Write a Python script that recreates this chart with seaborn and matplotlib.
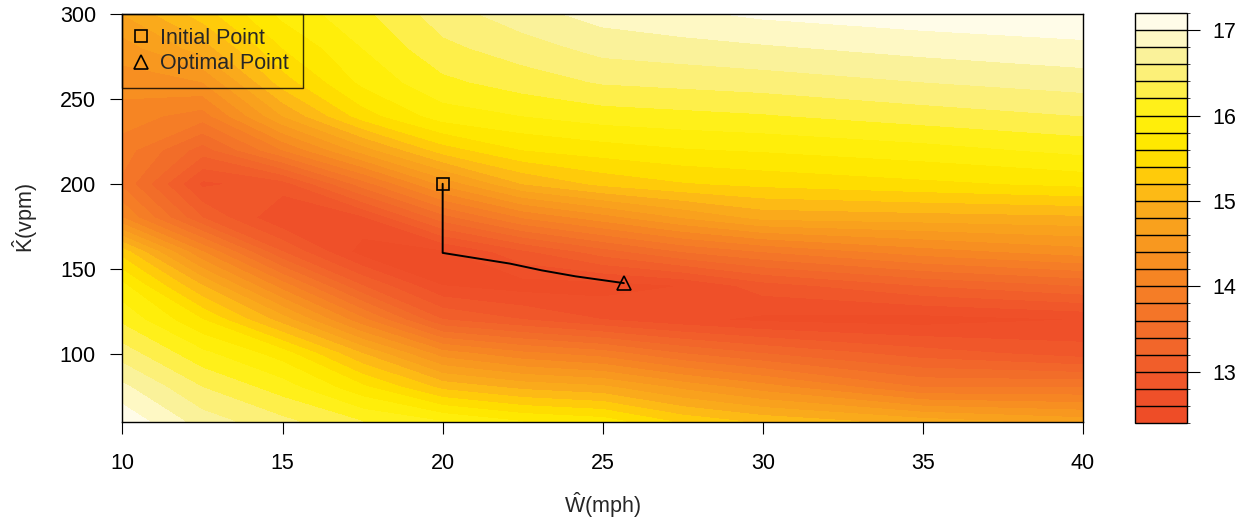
import numpy as np
import matplotlib
matplotlib.use("Agg")
import matplotlib.pyplot as plt
from matplotlib.colors import ListedColormap, BoundaryNorm
import seaborn as sns

sns.set_style("white")
plt.rcParams["font.family"] = ["Liberation Sans", "DejaVu Sans"]
plt.rcParams["mathtext.fontset"] = "custom"
plt.rcParams["mathtext.rm"] = "Liberation Sans"
plt.rcParams["mathtext.it"] = "Liberation Sans:italic"

# grid of speed W (mph) and density K (vpm)
w_vals = [10, 12.5, 15, 17.5, 20, 22.5, 25, 27.5, 30, 35, 40]
k_vals = [60, 80, 100, 120, 140, 160, 180, 200, 220, 240, 260, 280, 300]

# surface value along each W column (K = 60 ... 300)
z_w10 = [17.15, 16.85, 16.5, 16.15, 15.85, 15.3, 14.2, 13.75, 13.9, 14.1, 14.3, 14.5, 14.8]
z_w12 = [16.7, 16.4, 16.05, 15.6, 15.0, 14.2, 13.2, 12.75, 13.3, 13.9, 14.4, 14.9, 15.3]
z_w15 = [16.45, 16.1, 15.7, 14.9, 14.1, 13.2, 12.6, 12.9, 14.0, 14.8, 15.3, 15.6, 15.85]
z_w17 = [16.2, 15.65, 15.0, 14.05, 13.2, 12.5, 12.75, 13.7, 14.7, 15.5, 15.85, 16.0, 16.15]
z_w20 = [16.0, 15.15, 14.3, 13.2, 12.6, 12.55, 13.5, 14.45, 15.3, 15.9, 16.15, 16.35, 16.5]
z_w22 = [15.8, 14.95, 14.05, 13.0, 12.5, 12.95, 14.0, 15.0, 15.6, 16.0, 16.3, 16.5, 16.72]
z_w25 = [15.7, 14.85, 13.9, 12.8, 12.5, 13.3, 14.3, 15.25, 15.7, 16.1, 16.42, 16.67, 16.88]
z_w27 = [15.35, 14.55, 13.6, 12.65, 12.6, 13.6, 14.6, 15.38, 15.78, 16.14, 16.46, 16.72, 16.96]
z_w30 = [15.15, 14.3, 13.4, 12.55, 12.9, 13.8, 14.85, 15.45, 15.82, 16.18, 16.5, 16.77, 17.04]
z_w35 = [14.9, 13.8, 13.1, 12.5, 13.2, 14.1, 14.9, 15.55, 15.92, 16.3, 16.6, 16.87, 17.12]
z_w40 = [14.7, 13.8, 12.9, 12.6, 13.4, 14.3, 14.95, 15.65, 16.06, 16.4, 16.69, 16.95, 17.15]

# search path from the initial to the optimal point
path_w = [20, 20, 22.1, 23.1, 24.15, 25.66]
path_k = [200, 159.3, 153, 149, 145.5, 141.5]
init_w, init_k = 20, 200
opt_w, opt_k = 25.66, 141.5

levels = np.round(np.arange(12.4, 17.21, 0.2), 1)
band_colors = ["#EE4D27", "#EF5029", "#F0572A", "#F15E2A", "#F2662A", "#F26D29",
               "#F47528", "#F57D26", "#F68523", "#F78F21", "#F8981F", "#F9A11D",
               "#FAAA1B", "#FDBA15", "#FFCB0A", "#FFDD00", "#FFE800", "#FFEE0A",
               "#FFF01A", "#FEEF4A", "#FCF078", "#FAF29A", "#FEF8C4", "#FFFCE8"]
cmap = ListedColormap(band_colors)
norm = BoundaryNorm(levels, cmap.N)

Z = np.array([z_w10, z_w12, z_w15, z_w17, z_w20, z_w22, z_w25,
              z_w27, z_w30, z_w35, z_w40]).T

fig = plt.figure(figsize=(12.53, 5.23), dpi=100)
ax = fig.add_axes([0.09776, 0.19407, 0.76656, 0.77916])
cax = fig.add_axes([0.90583, 0.19120, 0.0415, 0.78394])

cf = ax.contourf(w_vals, k_vals, Z, levels=levels, cmap=cmap, norm=norm)

sns.lineplot(x=path_w, y=path_k, ax=ax, color="black", linewidth=1.4,
             sort=False, estimator=None)
ax.plot([init_w], [init_k], marker="s", markersize=8, markerfacecolor="none",
        markeredgecolor="black", markeredgewidth=1.2, linestyle="none",
        label="Initial Point")
ax.plot([opt_w], [opt_k], marker="^", markersize=10, markerfacecolor="none",
        markeredgecolor="black", markeredgewidth=1.2, linestyle="none",
        label="Optimal Point")

fs = 15.5
ax.set_xlim(10, 40)
ax.set_ylim(60, 300)
ax.set_xticks([10, 15, 20, 25, 30, 35, 40])
ax.set_yticks([100, 150, 200, 250, 300])
ax.tick_params(direction="out", length=8.6, width=0.8, labelsize=fs,
               bottom=True, left=True, colors="black")
ax.tick_params(axis="x", pad=14)
ax.tick_params(axis="y", pad=10.5)
for s in ax.spines.values():
    s.set_color("black")
    s.set_linewidth(1.0)

ax.set_xlabel(r"$\hat{\mathrm{W}}$(mph)", fontsize=fs, labelpad=12)
ax.set_ylabel(r"$\hat{\mathrm{K}}$(vpm)", fontsize=fs, labelpad=14)

leg = ax.legend(loc="upper left", borderaxespad=0, frameon=True, fontsize=fs,
                handletextpad=0.65, borderpad=0.65, labelspacing=0.2,
                handlelength=0.45, fancybox=False)
leg.get_frame().set_facecolor("none")
leg.get_frame().set_edgecolor("black")
leg.get_frame().set_linewidth(1.0)

cb = fig.colorbar(cf, cax=cax, drawedges=True, ticks=[13, 14, 15, 16, 17])
cb.outline.set_edgecolor("black")
cb.outline.set_linewidth(1.0)
cb.dividers.set_color("black")
cb.dividers.set_linewidth(1.0)
cax.tick_params(direction="out", length=9.4, width=0.8, labelsize=fs, pad=9,
                right=True, colors="black")
cax.yaxis.set_ticklabels(["13", "14", "15", "16", "17"])

fig.savefig("out.png", dpi=100)
